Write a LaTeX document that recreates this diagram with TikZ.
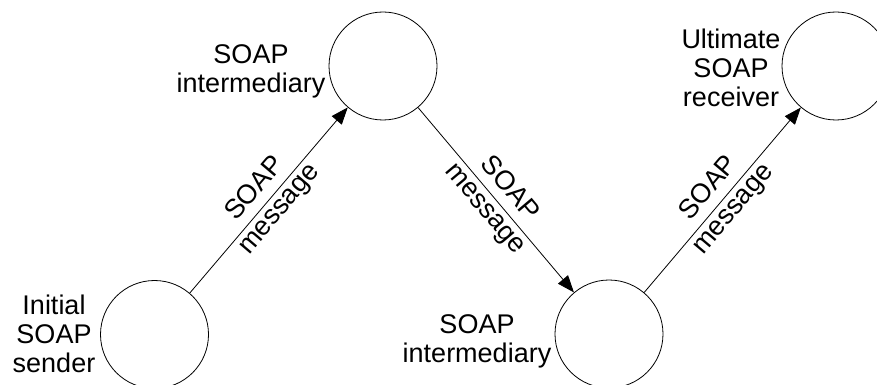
\documentclass[tikz,border=0pt]{standalone}
\usepackage{fontspec}
\setmainfont{Liberation Sans}
\usetikzlibrary{arrows.meta}
\begin{document}
\begin{tikzpicture}[x=1pt,y=-1pt,
  state/.style={circle,draw,line width=0.8pt,minimum size=108pt,inner sep=0pt},
  lbl/.style={font=\fontsize{27}{29}\selectfont,align=center,inner sep=0pt},
  msg/.style={-{Triangle[length=17pt,width=13pt]},line width=0.8pt},
  tag/.style={font=\fontsize{27}{29}\selectfont,sloped,midway,inner sep=0pt}]
\useasboundingbox (0,0) rectangle (877,385);
\clip (0,0) rectangle (877,385);
\node[state] (s1) at (154.5,334.5) {};
\node[state] (s2) at (383,66) {};
\node[state] (s3) at (609,334) {};
\node[state] (s4) at (836,66) {};
\node[lbl] (t1) at (54,334) {Initial\\SOAP\\sender};
\node[lbl] (t2) at (251,71) {SOAP\\intermediary};
\node[lbl] (t3) at (477,341) {SOAP\\intermediary};
\node[lbl] (t4) at (731,68) {Ultimate\\SOAP\\receiver};
\draw[msg] (s1) -- node[tag,above=10pt] (a1) {SOAP} node[tag,below=6pt] (b1) {message} (s2);
\draw[msg] (s2) -- node[tag,above=10pt] (a2) {SOAP} node[tag,below=6pt] (b2) {message} (s3);
\draw[msg] (s3) -- node[tag,above=10pt] (a3) {SOAP} node[tag,below=6pt] (b3) {message} (s4);
\end{tikzpicture}
\end{document}
